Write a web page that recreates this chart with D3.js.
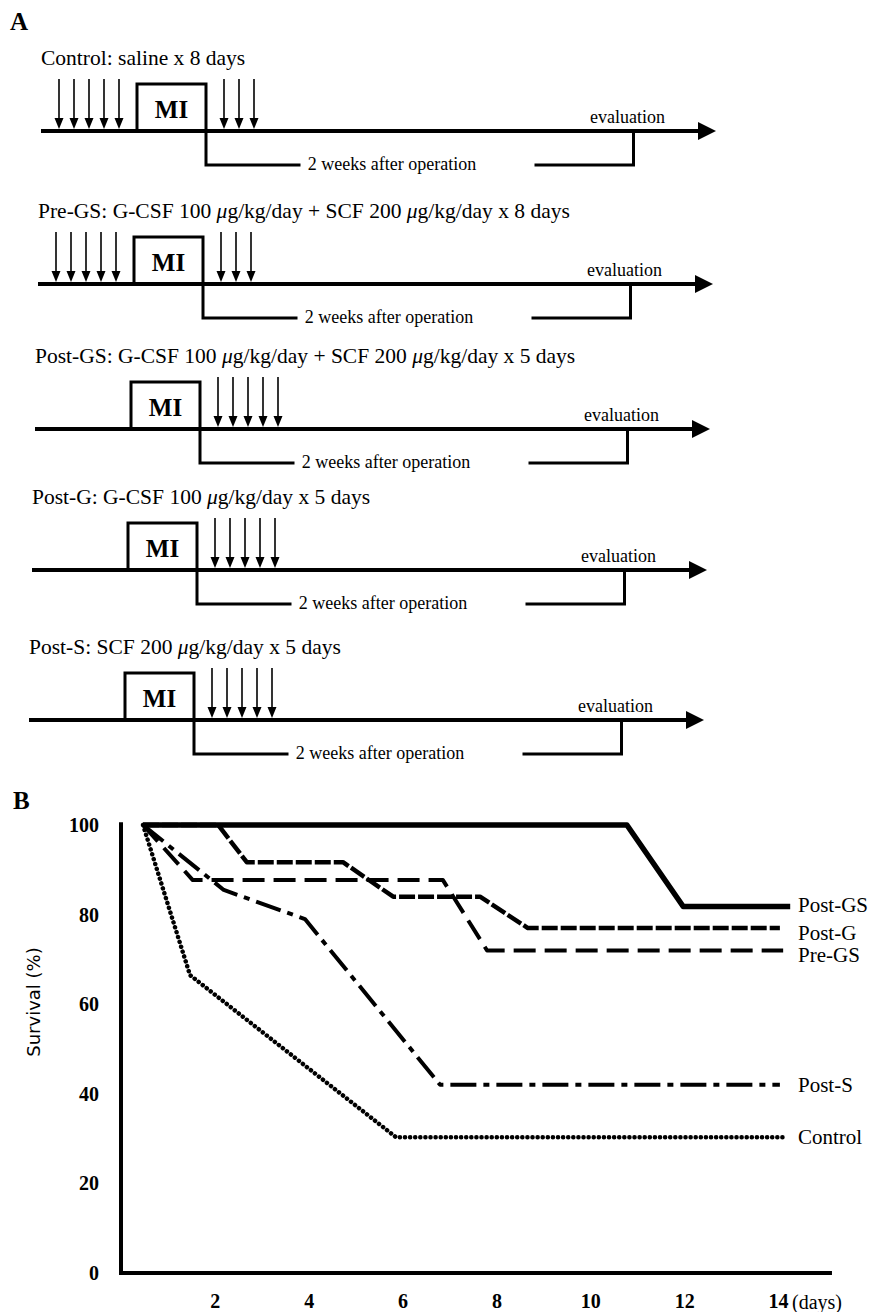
<!DOCTYPE html>
<html>
<head>
<meta charset="utf-8">
<script src="https://cdn.jsdelivr.net/npm/d3@7"></script>
<style>
  body { margin: 0; background: #fff; }
  svg { display: block; }
  text { font-family: "Liberation Serif", "Times New Roman", serif; fill: #000; }
</style>
</head>
<body>
<div id="vis"></div>
<script>
// ---- panel A: treatment protocols ----
const groups = ["Control", "Pre-GS", "Post-GS", "Post-G", "Post-S"];
const regimens = [
  "saline x 8 days",
  "G-CSF 100 μg/kg/day + SCF 200 μg/kg/day x 8 days",
  "G-CSF 100 μg/kg/day + SCF 200 μg/kg/day x 5 days",
  "G-CSF 100 μg/kg/day x 5 days",
  "SCF 200 μg/kg/day x 5 days"
];
// injection days on the schematic time line (MI spans miSpan)
const preDoses = [[-5, -4, -3, -2, -1], [-5, -4, -3, -2, -1], [], [], []];
const postDoses = [[6, 7, 8], [6, 7, 8], [6, 7, 8, 9, 10], [6, 7, 8, 9, 10], [6, 7, 8, 9, 10]];
const miSpan = [0.2, 4.8];
const evalDay = 33.3;

// ---- panel B: survival after MI ----
const seriesNames = ["Post-GS", "Post-G", "Pre-GS", "Post-S", "Control"];
const postGS = [[0.47, 100], [10.78, 100], [11.98, 81.8], [14.26, 81.8]];
const postG = [[0.47, 100], [2.07, 100], [2.68, 91.7], [4.73, 91.7], [5.8, 84], [7.65, 84], [8.67, 77], [14.04, 77]];
const preGS = [[0.47, 100], [1.53, 87.7], [6.86, 87.7], [7.8, 72], [14.11, 72]];
const postS = [[0.47, 100], [2.19, 85.5], [3.92, 79], [6.8, 42], [14.04, 42]];
const control = [[0.47, 100], [1.47, 66.5], [5.86, 30.3], [14.1, 30.3]];
const xTicks = [2, 4, 6, 8, 10, 12, 14];
const yTicks = [0, 20, 40, 60, 80, 100];

const W = 872, H = 1312;
const svg = d3.select("#vis").append("svg")
  .attr("width", W)
  .attr("height", H);

// panel letters
svg.append("text").attr("x", 10).attr("y", 30)
  .style("font-size", "25px").style("font-weight", "bold").text("A");
svg.append("text").attr("x", 13).attr("y", 809)
  .style("font-size", "25px").style("font-weight", "bold").text("B");

// ---------- panel A ----------
const tA = d3.scaleLinear().domain([-6.2, 38.8]).range([41, 716]);
const rowY = d3.scaleOrdinal().domain(groups).range([131, 284, 429, 570, 720]);

groups.forEach((name, i) => {
  const g = svg.append("g")
    .attr("transform", `translate(${-3 * i},${rowY(name)})`);

  // title, with italic mu
  const title = g.append("text")
    .attr("x", tA(-6.2))
    .attr("y", -66)
    .style("font-size", "21.5px");
  (name + ": " + regimens[i]).split(/(μ)/).forEach(part => {
    if (!part) return;
    title.append("tspan").text(part)
      .style("font-style", part === "μ" ? "italic" : null);
  });

  // MI box
  g.append("rect")
    .attr("x", tA(miSpan[0]))
    .attr("y", -47)
    .attr("width", tA(miSpan[1]) - tA(miSpan[0]))
    .attr("height", 47)
    .attr("fill", "#fff")
    .attr("stroke", "#000")
    .attr("stroke-width", 3);
  g.append("text")
    .attr("x", (tA(miSpan[0]) + tA(miSpan[1])) / 2)
    .attr("y", -13)
    .attr("text-anchor", "middle")
    .style("font-size", "25px").style("font-weight", "bold")
    .text("MI");

  // main time line + arrow head
  g.append("line")
    .attr("x1", tA(-6.2)).attr("x2", tA(37.8))
    .attr("y1", 0).attr("y2", 0)
    .attr("stroke", "#000").attr("stroke-width", 4);
  g.append("path")
    .attr("d", `M${tA(37.6)},-9 L${tA(38.8)},0 L${tA(37.6)},9 Z`)
    .attr("fill", "#000");

  // injection arrows
  const doses = preDoses[i].concat(postDoses[i]);
  const arr = g.selectAll("g.dose").data(doses).join("g")
    .attr("class", "dose")
    .attr("transform", d => `translate(${tA(d)},0)`);
  arr.append("line")
    .attr("y1", -52).attr("y2", -8)
    .attr("stroke", "#000").attr("stroke-width", 1.6);
  arr.append("path")
    .attr("d", "M-4.5,-13 L4.5,-13 L0,-2 Z")
    .attr("fill", "#000");

  // "2 weeks after operation" bracket
  g.append("path")
    .attr("d", `M${tA(miSpan[1])},0 V34 H${tA(11.1)} M${tA(26.7)},34 H${tA(evalDay)} V0`)
    .attr("fill", "none")
    .attr("stroke", "#000")
    .attr("stroke-width", 3);
  g.append("text")
    .attr("x", tA(17.2))
    .attr("y", 39)
    .attr("text-anchor", "middle")
    .style("font-size", "18px")
    .text("2 weeks after operation");
  g.append("text")
    .attr("x", tA(evalDay) - 6)
    .attr("y", -8)
    .attr("text-anchor", "middle")
    .style("font-size", "18px")
    .text("evaluation");
});

// ---------- panel B ----------
const x = d3.scaleLinear().domain([0, 14]).range([121, 778]);
const y = d3.scaleLinear().domain([0, 100]).range([1273, 825]);

const styles = {
  "Post-GS": { w: 5.5, dash: null, cap: "butt", dy: 5 },
  "Post-G": { w: 4.5, dash: "16,3", cap: "butt", dy: 12 },
  "Pre-GS": { w: 4, dash: "22,9", cap: "butt", dy: 12 },
  "Post-S": { w: 4, dash: "26,7,6,7", cap: "butt", dy: 7 },
  "Control": { w: 4.5, dash: "0.1,5", cap: "round", dy: 7 }
};
const seriesData = [postGS, postG, preGS, postS, control];

const line = d3.line()
  .x(d => x(d[0]))
  .y(d => y(d[1]));

// axes
const xAxis = svg.append("g")
  .attr("transform", `translate(0,${y(0)})`)
  .call(d3.axisBottom(x).tickValues(xTicks).tickSize(0).tickPadding(21));
const yAxis = svg.append("g")
  .attr("transform", `translate(${x(0)},0)`)
  .call(d3.axisLeft(y).tickValues(yTicks).tickSize(0).tickPadding(22));
[xAxis, yAxis].forEach(a => {
  a.select(".domain").remove();
  a.selectAll("text")
    .style("font-family", "'Liberation Serif', serif")
    .style("font-size", "20px")
    .style("font-weight", "bold");
});
svg.append("text")
  .attr("x", x(14) + 14)
  .attr("y", y(0) + 36)
  .style("font-size", "20px")
  .text("(days)");

svg.append("path")
  .attr("d", `M${x(0)},${y(100.6)} V${y(0)} H${x(15.15)}`)
  .attr("fill", "none")
  .attr("stroke", "#000")
  .attr("stroke-width", 4);

svg.append("text")
  .attr("transform", `translate(40,1002) rotate(-90)`)
  .attr("text-anchor", "middle")
  .style("font-family", "'DejaVu Sans', sans-serif")
  .style("font-size", "18px")
  .text("Survival (%)");

seriesNames.forEach((name, i) => {
  const s = styles[name];
  const data = seriesData[i];
  svg.append("path")
    .datum(data)
    .attr("fill", "none")
    .attr("stroke", "#000")
    .attr("stroke-width", s.w)
    .attr("stroke-dasharray", s.dash)
    .attr("stroke-linecap", s.cap)
    .attr("stroke-linejoin", "round")
    .attr("d", line);
  const last = data[data.length - 1];
  svg.append("text")
    .attr("x", 798)
    .attr("y", y(last[1]) + s.dy)
    .style("font-size", "21px")
    .text(name);
});
</script>
</body>
</html>
